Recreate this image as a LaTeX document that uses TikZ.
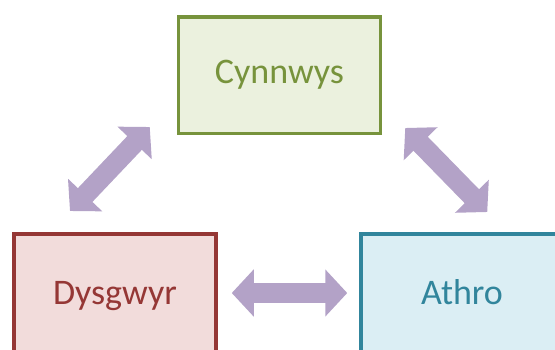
\documentclass[tikz,border=0pt]{standalone}
\usepackage{fontspec}
\setmainfont{Carlito}
\usetikzlibrary{arrows.meta}

\definecolor{cynline}{HTML}{77933C}
\definecolor{cynfill}{HTML}{EBF1DE}
\definecolor{dysline}{HTML}{953735}
\definecolor{dysfill}{HTML}{F2DCDB}
\definecolor{athline}{HTML}{31859C}
\definecolor{athfill}{HTML}{DBEEF4}
\definecolor{arrowlilac}{HTML}{B3A2C7}

\tikzset{
  box/.style={draw, line width=3.5pt, minimum width=202pt,
    font=\fontsize{36}{43}\selectfont, text height=24pt, text depth=7pt},
  biarrow/.style={color=arrowlilac, line width=20pt,
    {Triangle[length=22pt,width=46pt]}-{Triangle[length=22pt,width=46pt]}}
}

\begin{document}
\begin{tikzpicture}[x=1pt,y=-1pt]
  \useasboundingbox (0,0) rectangle (555,349);
  \node[box, draw=cynline, fill=cynfill, text=cynline, minimum height=116.5pt] (cyn) at (279.5,75) {Cynnwys};
  \node[box, draw=dysline, fill=dysfill, text=dysline, minimum height=124.5pt] (dys) at (115,296) {Dysgwyr};
  \node[box, draw=athline, fill=athfill, text=athline, minimum height=124.5pt] (ath) at (462,296) {Athro};
  \path[biarrow]
    ([shift={(-27,-8)}]cyn.south west) edge ([shift={(-45,-21)}]dys.north)
    ([shift={(23,-7)}]cyn.south east) edge ([shift={(128,-20)}]ath.north west)
    ([shift={(14,-3)}]dys.east) edge ([shift={(-12,-3)}]ath.west);
\end{tikzpicture}
\end{document}
